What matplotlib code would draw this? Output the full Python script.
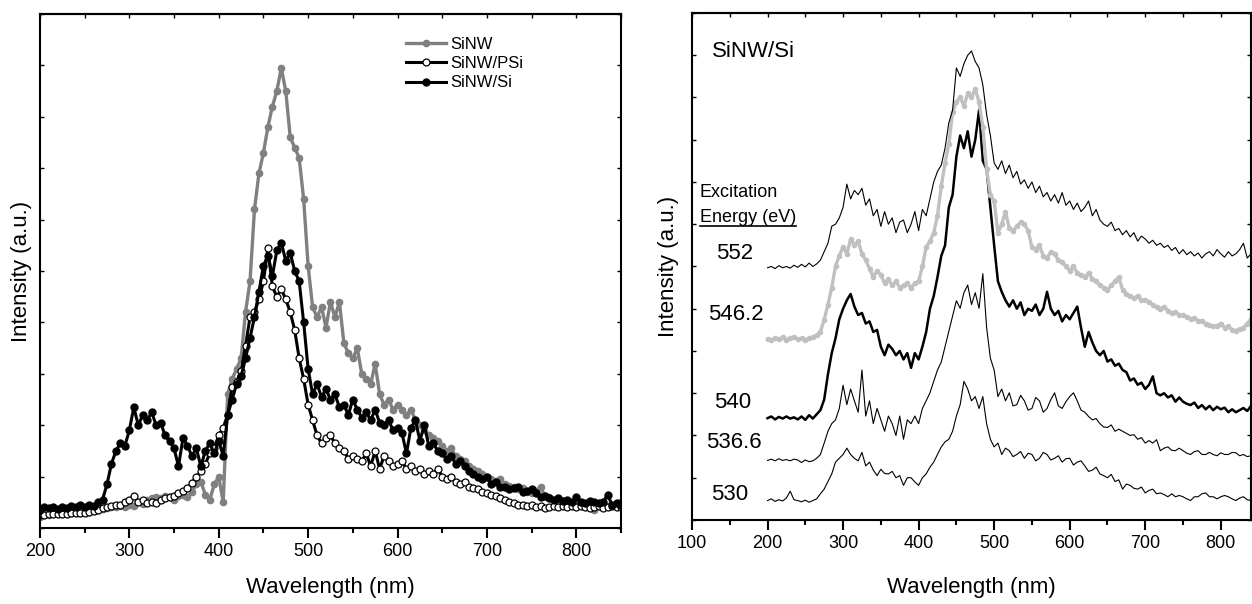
import numpy as np
import matplotlib
matplotlib.use("Agg")
import matplotlib.pyplot as plt
from matplotlib.ticker import MultipleLocator

plt.rcParams['font.family'] = ['Liberation Sans', 'DejaVu Sans']

# ---- left panel: PL spectra of the three samples (5 nm steps) ----
wl_left = np.arange(200, 851, 5)

sinw = [0.22, 0.25, 0.25, 0.27, 0.27, 0.28, 0.28, 0.30, 0.30, 0.30,
        0.32, 0.32, 0.34, 0.35, 0.37, 0.38, 0.40, 0.40, 0.42, 0.40,
        0.45, 0.42, 0.50, 0.47, 0.55, 0.58, 0.60, 0.58, 0.62, 0.60,
        0.55, 0.62, 0.65, 0.60, 0.70, 0.85, 0.90, 0.65, 0.55, 0.85,
        1.00, 0.50, 2.60, 2.90, 3.10, 3.30, 4.20, 4.80, 6.20, 6.90,
        7.30, 7.80, 8.20, 8.50, 8.95, 8.50, 7.60, 7.40, 7.20, 6.40,
        5.10, 4.30, 4.10, 4.30, 3.90, 4.40, 4.10, 4.40, 3.60, 3.40,
        3.30, 3.50, 3.00, 2.90, 2.80, 3.20, 2.60, 2.40, 2.50, 2.30,
        2.40, 2.30, 2.20, 2.30, 2.10, 2.00, 1.90, 1.80, 1.75, 1.70,
        1.60, 1.50, 1.55, 1.40, 1.35, 1.30, 1.20, 1.15, 1.10, 1.05,
        1.00, 0.95, 0.92, 0.95, 0.85, 0.82, 0.80, 0.75, 0.78, 0.70,
        0.68, 0.72, 0.80, 0.62, 0.60, 0.55, 0.55, 0.52, 0.50, 0.48,
        0.45, 0.45, 0.42, 0.40, 0.35, 0.42, 0.40, 0.42, 0.45, 0.45,
        0.50]

sinw_psi = [0.25, 0.25, 0.27, 0.27, 0.28, 0.28, 0.28, 0.30, 0.30, 0.30,
            0.30, 0.32, 0.33, 0.35, 0.38, 0.40, 0.42, 0.45, 0.45, 0.50,
            0.55, 0.62, 0.50, 0.55, 0.48, 0.50, 0.48, 0.55, 0.58, 0.60,
            0.62, 0.68, 0.72, 0.78, 0.88, 1.00, 1.10, 1.25, 1.45, 1.55,
            1.80, 1.95, 2.20, 2.75, 2.85, 3.05, 3.55, 4.10, 4.20, 4.45,
            4.80, 5.45, 4.70, 4.50, 4.65, 4.45, 4.20, 3.85, 3.30, 2.90,
            2.40, 2.10, 1.80, 1.65, 1.75, 1.80, 1.65, 1.55, 1.50, 1.35,
            1.40, 1.35, 1.30, 1.45, 1.20, 1.50, 1.15, 1.40, 1.30, 1.20,
            1.25, 1.30, 1.15, 1.20, 1.10, 1.15, 1.05, 1.10, 1.05, 1.15,
            1.00, 0.95, 1.00, 0.90, 0.85, 0.90, 0.80, 0.78, 0.75, 0.70,
            0.68, 0.65, 0.62, 0.58, 0.55, 0.50, 0.48, 0.45, 0.45, 0.42,
            0.45, 0.40, 0.42, 0.38, 0.40, 0.42, 0.40, 0.42, 0.40, 0.42,
            0.40, 0.42, 0.40, 0.38, 0.40, 0.42, 0.38, 0.40, 0.42, 0.40,
            0.40]

sinw_si = [0.36, 0.40, 0.38, 0.40, 0.37, 0.40, 0.38, 0.42, 0.40, 0.45,
           0.40, 0.45, 0.42, 0.50, 0.55, 0.85, 1.25, 1.50, 1.65, 1.60,
           1.90, 2.35, 2.00, 2.20, 2.10, 2.25, 2.00, 2.05, 1.80, 1.70,
           1.55, 1.20, 1.75, 1.60, 1.40, 1.55, 1.20, 1.50, 1.65, 1.45,
           1.70, 1.40, 2.20, 2.50, 2.80, 2.95, 3.30, 3.70, 4.10, 4.60,
           5.10, 5.30, 4.90, 5.40, 5.55, 5.20, 5.35, 5.00, 4.80, 4.00,
           3.10, 2.60, 2.80, 2.55, 2.70, 2.50, 2.60, 2.35, 2.40, 2.20,
           2.50, 2.30, 2.15, 2.25, 2.10, 2.30, 2.05, 2.00, 2.10, 1.90,
           1.95, 1.85, 1.45, 1.95, 2.10, 1.70, 2.00, 1.60, 1.65, 1.50,
           1.45, 1.35, 1.40, 1.25, 1.30, 1.20, 1.10, 1.05, 1.00, 0.95,
           1.00, 0.85, 0.90, 0.80, 0.80, 0.75, 0.78, 0.80, 0.70, 0.72,
           0.75, 0.68, 0.60, 0.62, 0.58, 0.55, 0.58, 0.52, 0.55, 0.50,
           0.60, 0.50, 0.48, 0.52, 0.50, 0.48, 0.50, 0.65, 0.45, 0.48,
           0.45]

# ---- right panel: SiNW/Si at several excitation energies ----
wl_right = np.arange(200, 841, 5)

e552 = [5.97, 6.00, 5.95, 6.02, 5.97, 6.00, 5.96, 6.03, 5.98, 6.05,
        5.99, 6.08, 6.00, 6.06, 6.15, 6.35, 6.55, 6.95, 7.00, 7.15,
        7.40, 7.95, 7.60, 7.80, 7.70, 7.85, 7.45, 7.60, 7.20, 7.35,
        6.95, 7.30, 7.00, 7.15, 6.80, 7.05, 7.10, 6.80, 7.00, 7.30,
        6.85, 7.35, 7.20, 7.60, 8.00, 8.25, 8.40, 8.80, 9.40, 9.70,
        10.70, 10.50, 10.80, 11.00, 11.10, 10.85, 10.70, 10.30, 9.60, 9.10,
        8.45, 8.30, 8.50, 8.20, 8.40, 8.10, 8.25, 7.95, 8.05, 7.85,
        8.00, 7.75, 7.90, 7.65, 7.75, 7.55, 7.70, 7.50, 7.75, 7.45,
        7.55, 7.35, 7.50, 7.30, 7.40, 7.55, 7.20, 7.35, 7.10, 7.00,
        6.95, 7.05, 6.85, 6.90, 6.75, 6.85, 6.70, 6.80, 6.60, 6.72,
        6.65, 6.55, 6.62, 6.50, 6.55, 6.45, 6.50, 6.38, 6.45, 6.30,
        6.40, 6.28, 6.35, 6.25, 6.32, 6.20, 6.30, 6.35, 6.25, 6.40,
        6.30, 6.22, 6.35, 6.25, 6.30, 6.40, 6.55, 6.20, 6.30]

e546 = [4.28, 4.26, 4.30, 4.28, 4.32, 4.27, 4.30, 4.33, 4.28, 4.30,
        4.27, 4.30, 4.33, 4.37, 4.46, 4.74, 5.10, 5.50, 6.01, 6.25,
        6.47, 6.30, 6.65, 6.50, 6.60, 6.30, 6.15, 5.95, 5.75, 5.90,
        5.80, 5.60, 5.70, 5.55, 5.65, 5.50, 5.55, 5.60, 5.50, 5.60,
        5.65, 6.00, 6.45, 6.60, 6.80, 7.20, 7.90, 8.45, 8.90, 9.65,
        9.90, 10.00, 9.80, 10.10, 10.00, 10.20, 9.90, 9.30, 8.30, 7.70,
        7.55, 6.80, 7.00, 7.30, 6.90, 6.85, 6.95, 7.05, 7.00, 6.85,
        6.45, 6.40, 6.50, 6.25, 6.20, 6.35, 6.30, 6.15, 6.10, 6.00,
        5.90, 6.00, 5.85, 5.80, 5.75, 5.85, 5.70, 5.65, 5.55, 5.50,
        5.45, 5.55, 5.65, 5.75, 5.45, 5.35, 5.30, 5.25, 5.30, 5.20,
        5.20, 5.15, 5.10, 5.05, 5.00, 5.05, 4.95, 4.90, 4.92, 4.85,
        4.85, 4.80, 4.75, 4.78, 4.72, 4.70, 4.65, 4.62, 4.58, 4.60,
        4.65, 4.55, 4.58, 4.50, 4.48, 4.52, 4.55, 4.65, 4.75]

e540 = [2.41, 2.45, 2.38, 2.44, 2.40, 2.45, 2.40, 2.43, 2.38, 2.45,
        2.37, 2.48, 2.40, 2.50, 2.60, 2.85, 3.45, 3.95, 4.30, 4.75,
        5.00, 5.20, 5.35, 5.05, 4.85, 4.90, 4.65, 4.70, 4.45, 4.50,
        4.10, 3.90, 4.15, 4.05, 3.90, 4.00, 3.80, 3.95, 3.60, 3.95,
        3.80, 4.10, 4.45, 5.00, 5.30, 5.75, 6.25, 6.50, 7.40, 7.70,
        8.60, 9.10, 8.80, 9.20, 8.60, 9.00, 9.70, 8.50, 8.30, 7.40,
        6.50, 5.65, 5.40, 5.20, 5.05, 5.20, 5.00, 5.15, 4.85, 5.00,
        4.95, 5.10, 4.85, 5.00, 5.40, 5.00, 4.85, 4.95, 4.70, 4.85,
        4.75, 4.90, 5.05, 4.55, 4.10, 4.45, 4.20, 4.00, 3.90, 4.00,
        3.75, 3.80, 3.65, 3.70, 3.55, 3.50, 3.30, 3.35, 3.20, 3.25,
        3.10, 3.20, 3.40, 3.00, 2.95, 3.00, 2.90, 2.95, 2.80, 2.90,
        2.80, 2.75, 2.72, 2.78, 2.65, 2.72, 2.62, 2.70, 2.60, 2.68,
        2.62, 2.66, 2.55, 2.62, 2.55, 2.60, 2.65, 2.58, 2.70]

e536 = [1.41, 1.44, 1.40, 1.45, 1.41, 1.43, 1.40, 1.44, 1.42, 1.36,
        1.42, 1.38, 1.40, 1.46, 1.55, 1.82, 2.10, 2.28, 2.37, 2.64,
        3.19, 2.73, 3.10, 2.82, 2.55, 3.55, 2.46, 2.82, 2.28, 2.64,
        2.37, 2.10, 2.46, 2.28, 2.00, 2.46, 1.91, 2.37, 2.28, 2.46,
        2.28, 2.64, 2.82, 3.01, 3.28, 3.55, 3.74, 4.10, 4.46, 4.83,
        5.19, 5.01, 5.38, 5.56, 5.10, 5.38, 5.01, 5.83, 4.56, 3.83,
        3.55, 2.92, 3.10, 2.82, 3.01, 2.70, 2.73, 2.95, 2.82, 2.60,
        2.64, 2.90, 2.82, 2.55, 2.64, 2.85, 3.01, 2.70, 2.64, 2.80,
        2.92, 3.01, 2.82, 2.60, 2.55, 2.45, 2.37, 2.40, 2.28, 2.20,
        2.19, 2.25, 2.10, 2.15, 2.10, 2.05, 2.00, 2.02, 1.91, 1.95,
        1.82, 1.88, 1.82, 1.90, 1.64, 1.70, 1.73, 1.65, 1.64, 1.70,
        1.64, 1.58, 1.55, 1.62, 1.64, 1.55, 1.55, 1.60, 1.55, 1.52,
        1.59, 1.55, 1.55, 1.60, 1.59, 1.52, 1.55, 1.50, 1.52]

e530 = [0.46, 0.50, 0.44, 0.48, 0.45, 0.52, 0.68, 0.48, 0.46, 0.43,
        0.47, 0.42, 0.46, 0.50, 0.62, 0.73, 0.91, 1.09, 1.37, 1.46,
        1.55, 1.70, 1.55, 1.46, 1.40, 1.60, 1.28, 1.37, 1.18, 1.05,
        1.20, 1.10, 1.09, 1.15, 1.00, 1.05, 0.82, 1.00, 1.00, 0.90,
        0.82, 1.00, 1.09, 1.25, 1.37, 1.55, 1.73, 1.85, 1.91, 2.10,
        2.46, 2.73, 3.28, 3.10, 2.82, 2.92, 2.64, 2.92, 2.28, 1.91,
        1.73, 1.82, 1.55, 1.70, 1.64, 1.50, 1.55, 1.62, 1.46, 1.58,
        1.55, 1.40, 1.46, 1.60, 1.55, 1.42, 1.46, 1.52, 1.37, 1.45,
        1.46, 1.30, 1.37, 1.40, 1.28, 1.15, 1.18, 1.25, 1.09, 1.05,
        1.00, 1.08, 0.91, 0.95, 0.73, 0.85, 0.82, 0.75, 0.73, 0.78,
        0.64, 0.70, 0.73, 0.62, 0.64, 0.60, 0.55, 0.62, 0.55, 0.58,
        0.55, 0.50, 0.46, 0.55, 0.55, 0.62, 0.64, 0.55, 0.55, 0.50,
        0.55, 0.58, 0.55, 0.50, 0.46, 0.52, 0.55, 0.48, 0.46]

energy_labels = ["552", "546.2", "540", "536.6", "530"]


def style_axes(ax, xmin, xmax, ny):
    ax.set_xlim(xmin, xmax)
    ax.set_ylim(0, ny)
    ax.xaxis.set_major_locator(MultipleLocator(100))
    ax.xaxis.set_minor_locator(MultipleLocator(50))
    ax.yaxis.set_major_locator(MultipleLocator(1))
    ax.tick_params(axis='x', which='major', direction='out', length=7,
                   width=1.5, labelsize=13, pad=4, top=False)
    ax.tick_params(axis='x', which='minor', direction='out', length=3.5,
                   width=1.5, top=False)
    ax.tick_params(axis='y', which='major', direction='in', length=3,
                   width=1.0, left=True, right=True, labelleft=False)
    for s in ax.spines.values():
        s.set_linewidth(1.5)
    # little inward ticks along the top edge every 50 nm
    top = ax.secondary_xaxis('top')
    top.xaxis.set_major_locator(MultipleLocator(50))
    top.tick_params(direction='in', length=3, width=1.0, labeltop=False)
    top.spines['top'].set_linewidth(1.5)


fig = plt.figure(figsize=(12.52, 6.04), dpi=100)

ax1 = fig.add_axes([0.0319, 0.1258, 0.4641, 0.851])
ax1.plot(wl_left, sinw, color='#808080', lw=2.4, marker='o', ms=4.5,
         mec='#808080', mfc='#808080', label='SiNW')
ax1.plot(wl_left, sinw_psi, color='black', lw=2.2, marker='o', ms=5,
         mec='black', mfc='white', mew=0.9, label='SiNW/PSi')
ax1.plot(wl_left, sinw_si, color='black', lw=2.2, marker='o', ms=5,
         mec='black', mfc='black', label='SiNW/Si')
style_axes(ax1, 200, 850, 10)
ax1.set_xlabel('Wavelength (nm)', fontsize=16)
ax1.set_ylabel('Intensity (a.u.)', fontsize=16)
ax1.xaxis.set_label_coords(0.5, -0.095)
ax1.yaxis.set_label_coords(-0.013, 0.5)
ax1.legend(loc='upper left', bbox_to_anchor=(0.63, 0.955), frameon=False,
           fontsize=12, handlelength=2.4, handletextpad=0.25,
           labelspacing=0.25, borderpad=0, borderaxespad=0)

ax2 = fig.add_axes([0.5527, 0.1391, 0.4465, 0.8394])
ax2.plot(wl_right, e530, color='black', lw=0.8)
ax2.plot(wl_right, e536, color='black', lw=0.8)
ax2.plot(wl_right, e540, color='black', lw=1.8)
ax2.plot(wl_right, e546, color='#c0c0c0', lw=2.4, marker='o', ms=3,
         mec='#c0c0c0', mfc='#c0c0c0')
ax2.plot(wl_right, e552, color='black', lw=0.8)
style_axes(ax2, 100, 840, 12)
ax2.set_xlabel('Wavelength (nm)', fontsize=16)
ax2.set_ylabel('Intensity (a.u.)', fontsize=16)
ax2.xaxis.set_label_coords(0.5, -0.113)
ax2.yaxis.set_label_coords(-0.023, 0.5)

ax2.text(0.036, 0.925, 'SiNW/Si', transform=ax2.transAxes, fontsize=16,
         va='center', ha='left')
ax2.text(0.014, 0.645, 'Excitation', transform=ax2.transAxes, fontsize=13,
         va='center', ha='left')
ax2.text(0.014, 0.596, 'Energy (eV)', transform=ax2.transAxes, fontsize=13,
         va='center', ha='left')
ax2.plot([0.014, 0.186], [0.58, 0.58], color='black', lw=1.2,
         transform=ax2.transAxes, clip_on=False)

label_pos = [(0.076, 0.525), (0.078, 0.406), (0.072, 0.232),
             (0.075, 0.152), (0.068, 0.051)]
for lab, (xp, yp) in zip(energy_labels, label_pos):
    ax2.text(xp, yp, lab, transform=ax2.transAxes, fontsize=16,
             va='center', ha='center')

plt.savefig('out.png', dpi=100)
